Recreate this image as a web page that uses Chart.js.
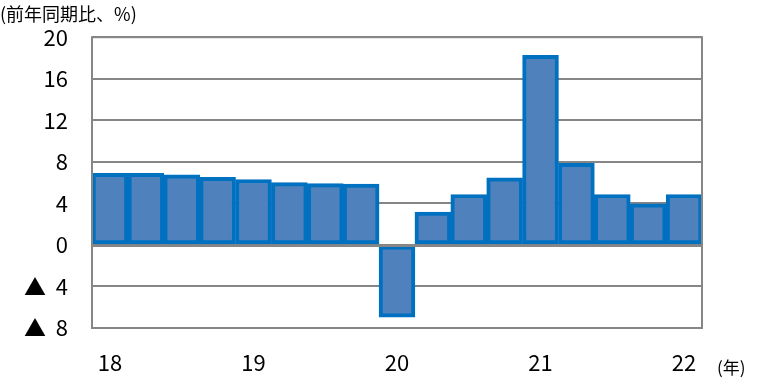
<!DOCTYPE html>
<html>
<head>
<meta charset="utf-8">
<script src="https://cdn.jsdelivr.net/npm/chart.js@4.4.1/dist/chart.umd.min.js"></script>
<style>
  html, body { margin: 0; padding: 0; background: #fff; }
  #wrap { width: 758px; height: 380px; position: relative; }
</style>
</head>
<body>
<div id="wrap"><canvas id="chart"></canvas></div>
<script>
// 四半期ラベル（各年の第1四半期だけ年を表示）
const quarters = ['18', '', '', '', '19', '', '', '', '20', '', '', '', '21', '', '', '', '22'];
// 前年同期比（%）
const growth = [6.9, 6.9, 6.75, 6.5, 6.3, 6.0, 5.9, 5.85, -6.95, 3.15, 4.85, 6.45, 18.25, 7.85, 4.85, 3.95, 4.85];
// 縦軸の目盛り
const yTicks = [20, 16, 12, 8, 4, 0, -4, -8];
const yTickLabels = ['20', '16', '12', '8', '4', '0', '▲  4', '▲  8'];

const FONT = '"Noto Sans CJK JP", "Noto Sans", sans-serif';

// 枠線・ゼロ線と注記テキスト
const frame = {
  id: 'frame',
  afterDraw(chart) {
    const { ctx, chartArea: a } = chart;
    const y0 = chart.scales.y.getPixelForValue(0);
    ctx.save();
    ctx.strokeStyle = '#868686';
    ctx.lineWidth = 2;
    ctx.strokeRect(a.left, a.top, a.right - a.left, a.bottom - a.top);
    ctx.beginPath();
    ctx.moveTo(a.left, y0 + 1);
    ctx.lineTo(a.right, y0 + 1);
    ctx.stroke();
    ctx.fillStyle = '#000';
    ctx.textBaseline = 'middle';
    ctx.font = '18px ' + FONT;
    ctx.fillText('(前年同期比、%)', 0, 14);
    ctx.font = '17px ' + FONT;
    ctx.fillText('(年)', 717, 368);
    ctx.restore();
  }
};

const ctx = document.getElementById('chart').getContext('2d');
new Chart(ctx, {
  type: 'bar',
  data: {
    labels: quarters,
    datasets: [{
      data: growth,
      backgroundColor: '#4F81BD',
      borderColor: '#0070C0',
      borderWidth: 4,
      borderSkipped: false,
      barPercentage: 1.0,
      categoryPercentage: 1.0,
    }],
  },
  options: {
    responsive: true,
    maintainAspectRatio: false,
    animation: false,
    layout: { padding: { top: 37, right: 56, left: 0, bottom: 0 } },
    plugins: {
      legend: { display: false },
      tooltip: { enabled: false },
    },
    scales: {
      x: {
        grid: { display: false, drawTicks: false },
        border: { display: false },
        ticks: {
          autoSkip: false,
          maxRotation: 0,
          padding: 21,
          color: '#000',
          font: { family: FONT, size: 22 },
        },
        afterFit: s => { s.height = 52; },
      },
      y: {
        min: -8,
        max: 20,
        afterBuildTicks: s => { s.ticks = yTicks.map(v => ({ value: v })); },
        grid: { color: '#868686', lineWidth: 2, drawTicks: false },
        border: { display: false },
        ticks: {
          padding: 24,
          color: '#000',
          font: { family: FONT, size: 22 },
          callback: v => yTickLabels[yTicks.indexOf(v)],
        },
        afterFit: s => { s.width = 92; },
      },
    },
  },
  plugins: [frame],
});
</script>
</body>
</html>
